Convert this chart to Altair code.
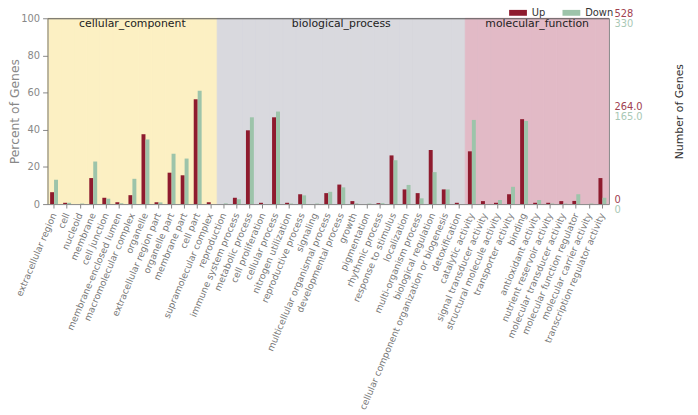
import altair as alt
import pandas as pd

GROUPS = ["cellular_component", "biological_process", "molecular_function"]
BG_COLORS = ["#FCF0C3", "#D9D9DE", "#E2BAC6"]
SERIES = ["Up", "Down"]
SERIES_COLORS = ["#8E1B2E", "#9DC4AA"]
UP_TOTAL = 528
DOWN_TOTAL = 330

CC_TERMS = ["extracellular region", "cell", "nucleoid", "membrane", "cell junction",
            "membrane-enclosed lumen", "macromolecular complex", "organelle",
            "extracellular region part", "organelle part", "membrane part", "cell part",
            "supramolecular complex"]
CC_UP = [6.4, 0.7, 0.0, 14.0, 3.4, 1.0, 4.8, 37.6, 1.0, 16.9, 15.5, 56.4, 1.0]
CC_DOWN = [13.1, 0.7, 0.3, 22.9, 2.9, 0.5, 13.6, 34.8, 0.9, 27.1, 24.5, 61.0, 0.0]

BP_TERMS = ["reproduction", "immune system process", "metabolic process", "cell proliferation",
            "cellular process", "nitrogen utilization", "reproductive process", "signaling",
            "multicellular organismal process", "developmental process", "growth",
            "pigmentation", "rhythmic process", "response to stimulus", "localization",
            "multi-organism process", "biological regulation",
            "cellular component organization or biogenesis", "detoxification"]
BP_UP = [0.0, 3.4, 39.7, 0.7, 46.7, 0.7, 5.3, 0.0, 5.9, 10.5, 1.6, 0.0, 0.5, 26.2, 7.9, 5.9, 29.1, 7.9, 0.7]
BP_DOWN = [0.4, 2.6, 46.7, 0.0, 49.8, 0.3, 4.7, 0.3, 6.6, 9.0, 0.4, 0.3, 0.5, 23.6, 10.3, 3.1, 17.2, 7.9, 0.0]

MF_TERMS = ["catalytic activity", "signal transducer activity", "structural molecule activity",
            "transporter activity", "binding", "antioxidant activity", "nutrient reservoir activity",
            "molecular transducer activity", "molecular function regulator",
            "molecular carrier activity", "transcription regulator activity"]
MF_UP = [28.4, 1.6, 0.7, 5.3, 45.7, 0.7, 0.7, 1.6, 1.7, 0.0, 14.0]
MF_DOWN = [45.3, 0.0, 2.2, 9.3, 44.7, 2.2, 0.3, 0.3, 5.3, 0.3, 3.4]

FONT = "DejaVu Sans"
W, H = 568, 188

term_lists = [CC_TERMS, BP_TERMS, MF_TERMS]
up_lists = [CC_UP, BP_UP, MF_UP]
down_lists = [CC_DOWN, BP_DOWN, MF_DOWN]

categories = CC_TERMS + BP_TERMS + MF_TERMS
rows = []
bg_rows = []
for g, terms, ups, downs in zip(GROUPS, term_lists, up_lists, down_lists):
    for t, u, d in zip(terms, ups, downs):
        rows.append({"category": t, "series": "Up", "value": u})
        rows.append({"category": t, "series": "Down", "value": d})
        bg_rows.append({"category": t, "group": g})
bars_df = pd.DataFrame(rows)
bg_df = pd.DataFrame(bg_rows)
title_df = pd.DataFrame({"group": GROUPS,
                         "category": [t[len(t) // 2] for t in term_lists]})

x_scale = alt.Scale(domain=categories, paddingInner=0, paddingOuter=0)


def X(axis):
    return alt.X("category:N", sort=categories, scale=x_scale, axis=axis, title=None)


y_scale = alt.Scale(domain=[0, 100], nice=False, zero=True)

bottom_axis = alt.Axis(orient="bottom", labelAngle=-67, labelAlign="right", labelBaseline="middle",
                       labelFontSize=9.3, labelColor="#777", labelFont=FONT, tickSize=4,
                       tickColor="#888", domainColor="#888", labelPadding=5, labelOverlap=False,
                       labelLimit=400, zindex=1, title=None)
top_axis = alt.Axis(orient="top", labels=False, ticks=False, domain=True, domainColor="#555",
                    zindex=1, title=None)

bg = alt.Chart(bg_df).mark_rect(strokeWidth=1).encode(
    x=X(None),
    y=alt.YDatum(100, scale=y_scale, axis=None),
    y2=alt.Y2Datum(0),
    color=alt.Color("group:N", scale=alt.Scale(domain=GROUPS, range=BG_COLORS), legend=None),
    stroke=alt.Stroke("group:N", scale=alt.Scale(domain=GROUPS, range=BG_COLORS), legend=None),
)

bars = alt.Chart(bars_df).mark_bar().encode(
    x=X(bottom_axis),
    xOffset=alt.XOffset("series:N", sort=SERIES,
                        scale=alt.Scale(domain=SERIES, paddingInner=0, paddingOuter=0.65)),
    y=alt.Y("value:Q", scale=y_scale,
            axis=alt.Axis(orient="left", values=[0, 20, 40, 60, 80, 100], labelFontSize=10,
                          labelColor="#888", labelFont=FONT, labelPadding=3, tickSize=5,
                          tickColor="#888", domainColor="#777", grid=False, zindex=1,
                          title="Percent of Genes", titleFont=FONT, titleFontSize=12.5,
                          titleFontWeight="normal", titleColor="#888", titleAngle=270,
                          titleX=-33, titleY=H / 2, titleAlign="center", titleBaseline="middle")),
    color=alt.Color("series:N", sort=SERIES,
                    scale=alt.Scale(domain=SERIES, range=SERIES_COLORS),
                    legend=alt.Legend(title=None, orient="none", legendX=467, legendY=-14.5,
                                      direction="horizontal", symbolType="M-1,-0.33H1V0.33H-1Z",
                                      symbolSize=324, labelFontSize=10, labelFont=FONT,
                                      labelColor="#333", labelOffset=5, columnPadding=17,
                                      padding=0, symbolStrokeWidth=0, symbolOpacity=1)),
)

red_expr = (f"datum.value == 100 ? '{UP_TOTAL}' : datum.value == 50 ? '{UP_TOTAL / 2:.1f}' : '0'")
green_expr = (f"datum.value == 100 ? '{DOWN_TOTAL}' : datum.value == 50 ? '{DOWN_TOTAL / 2:.1f}' : '0'")

ghost_red = alt.Chart(bars_df).mark_point(opacity=0).encode(
    x=X(None),
    y=alt.Y("value:Q", scale=y_scale,
            axis=alt.Axis(orient="right", values=[0, 50, 100], labelExpr=red_expr,
                          labelBaseline="middle", labelOffset=-5, labelAlign="left",
                          labelFontSize=10, labelFont=FONT, labelColor="#A0404F",
                          labelPadding=5, labelFlush=False, ticks=False, domainColor="#888",
                          grid=False, zindex=1, title=None)),
)

ghost_green = alt.Chart(bars_df).mark_point(opacity=0).encode(
    x=X(None),
    y=alt.Y("value:Q", scale=y_scale,
            axis=alt.Axis(orient="right", values=[0, 50, 100], labelExpr=green_expr,
                          labelBaseline="middle", labelOffset=5.5, labelAlign="left",
                          labelFontSize=10, labelFont=FONT, labelColor="#A9C8B5",
                          labelPadding=5, labelFlush=False, ticks=False, domain=False,
                          grid=False, zindex=1,
                          title="Number of Genes", titleFont=FONT, titleFontSize=11,
                          titleFontWeight="normal", titleColor="#333", titleAngle=270,
                          titleX=71, titleY=H / 2, titleAlign="center", titleBaseline="middle")),
)

titles = alt.Chart(title_df).mark_text(font=FONT, fontSize=11, color="#222", baseline="middle").encode(
    x=X(top_axis),
    y=alt.value(6),
    text="group:N",
)

chart = alt.layer(bg, bars, ghost_red, ghost_green, titles).resolve_scale(
    y="independent", color="independent"
).resolve_axis(x="independent").properties(
    width=W, height=H,
    autosize=alt.AutoSizeParams(type="none"),
    padding={"left": 40, "top": 8, "right": 82, "bottom": 211},
).configure_view(stroke=None)

chart.save("out.html", embed_options={"renderer": "svg", "actions": False})
